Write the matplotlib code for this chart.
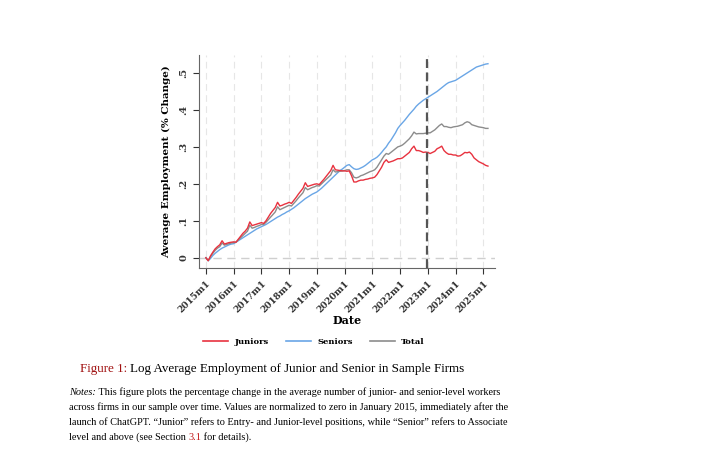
import matplotlib
matplotlib.use("Agg")
import matplotlib.pyplot as plt
from matplotlib.lines import Line2D
import numpy as np

# monthly values, 2015m1 .. 2025m3
juniors = [
    0, -0.008, 0.005, 0.015, 0.024, 0.03, 0.035, 0.046, 0.037, 0.039, 0.041, 0.042,
    0.043, 0.042, 0.05, 0.058, 0.066, 0.072, 0.08, 0.097, 0.087, 0.089, 0.091, 0.093,
    0.095, 0.093, 0.1, 0.11, 0.12, 0.128, 0.136, 0.15, 0.14, 0.142, 0.145, 0.147,
    0.15, 0.147, 0.155, 0.163, 0.172, 0.18, 0.188, 0.203, 0.193, 0.195, 0.197, 0.199,
    0.2, 0.198, 0.205, 0.212, 0.22, 0.228, 0.236, 0.25, 0.238, 0.237, 0.236, 0.235,
    0.235, 0.234, 0.235, 0.222, 0.205, 0.205, 0.208, 0.21, 0.21, 0.212, 0.213, 0.215,
    0.216, 0.218, 0.225, 0.235, 0.245, 0.258, 0.265, 0.258, 0.26, 0.262, 0.265, 0.268,
    0.268, 0.27, 0.275, 0.28, 0.285, 0.295, 0.302, 0.29, 0.29, 0.288, 0.285, 0.286,
    0.285, 0.282, 0.285, 0.288, 0.295, 0.298, 0.302, 0.29, 0.284, 0.28, 0.28, 0.278,
    0.278, 0.275, 0.276, 0.28, 0.285, 0.284, 0.286, 0.28, 0.27, 0.265, 0.26, 0.257,
    0.254, 0.25, 0.248,
]
seniors = [
    0, -0.008, -0.002, 0.006, 0.012, 0.017, 0.022, 0.026, 0.029, 0.032, 0.035, 0.037,
    0.038, 0.042, 0.046, 0.05, 0.054, 0.058, 0.062, 0.066, 0.07, 0.074, 0.078, 0.081,
    0.084, 0.087, 0.09, 0.094, 0.098, 0.102, 0.106, 0.11, 0.113, 0.117, 0.12, 0.124,
    0.127, 0.131, 0.135, 0.14, 0.145, 0.15, 0.155, 0.16, 0.164, 0.168, 0.172, 0.175,
    0.178, 0.183, 0.188, 0.194, 0.2, 0.206, 0.212, 0.218, 0.224, 0.23, 0.236, 0.24,
    0.245, 0.25, 0.252, 0.246, 0.241, 0.239, 0.24, 0.243, 0.246, 0.25, 0.255, 0.26,
    0.265, 0.268, 0.272, 0.278, 0.285, 0.293, 0.3, 0.31, 0.318, 0.328, 0.338, 0.35,
    0.358, 0.365, 0.372, 0.38, 0.388, 0.395, 0.402, 0.41, 0.416, 0.421, 0.426, 0.43,
    0.434, 0.438, 0.442, 0.446, 0.45, 0.455, 0.46, 0.465, 0.47, 0.474, 0.476, 0.478,
    0.48, 0.484, 0.488, 0.492, 0.496, 0.5, 0.504, 0.508, 0.512, 0.516, 0.518, 0.52,
    0.522, 0.524, 0.525,
]
total = [
    0, -0.008, 0.003, 0.012, 0.02, 0.026, 0.03, 0.04, 0.034, 0.036, 0.038, 0.04,
    0.041, 0.042, 0.048, 0.054, 0.06, 0.066, 0.072, 0.088, 0.08, 0.082, 0.085, 0.087,
    0.09, 0.09, 0.096, 0.103, 0.11, 0.117, 0.124, 0.138, 0.13, 0.133, 0.136, 0.139,
    0.142, 0.14, 0.147, 0.154, 0.162, 0.169, 0.176, 0.19, 0.184, 0.187, 0.19, 0.192,
    0.195, 0.194, 0.2, 0.206, 0.212, 0.218, 0.224, 0.238, 0.232, 0.233, 0.234, 0.235,
    0.236, 0.238, 0.238, 0.23, 0.218, 0.216, 0.218, 0.222, 0.224, 0.227, 0.23, 0.233,
    0.235, 0.238, 0.245, 0.255, 0.265, 0.275, 0.282, 0.28, 0.285, 0.29, 0.295, 0.3,
    0.302, 0.305, 0.31, 0.316, 0.322, 0.33, 0.34, 0.335, 0.336, 0.336, 0.336, 0.337,
    0.338, 0.338, 0.342, 0.346, 0.352, 0.358, 0.362, 0.355, 0.355, 0.353, 0.352, 0.354,
    0.355, 0.356, 0.358, 0.36, 0.365, 0.368, 0.366, 0.36, 0.358, 0.356, 0.354, 0.353,
    0.352, 0.35, 0.35,
]
years = list(range(2015, 2026))
xtick_labels = [f"{y}m1" for y in years]
yticks = [0, 0.1, 0.2, 0.3, 0.4, 0.5]
ytick_labels = ["0", ".1", ".2", ".3", ".4", ".5"]
chatgpt_month = 95.5  # months since 2015m1

RED = "#e8323f"
BLUE = "#6aa6e6"
GRAY = "#8c8c8c"
SERIF = "DejaVu Serif"
TEXTF = "Liberation Serif"

months = np.arange(len(juniors))

fig = plt.figure(figsize=(7.08, 4.72), dpi=100)
ax = fig.add_axes([0.281, 0.432, 0.418, 0.451])

for yr in range(len(years)):
    ax.axvline(yr * 12, color="#e6e6e6", lw=0.8, ls=(0, (6, 4)), zorder=0)
ax.axhline(0, color="#cfcfcf", lw=1.0, ls=(0, (6, 4)), zorder=0)

ax.plot(months, seniors, color=BLUE, lw=1.0)
ax.plot(months, total, color=GRAY, lw=1.0)
ax.plot(months, juniors, color=RED, lw=1.0)
ax.axvline(chatgpt_month, color="#555555", lw=1.6, ls=(0, (4, 2)))

ax.set_xlim(-3, 125)
ax.set_ylim(-0.028, 0.548)
ax.set_xticks([i * 12 for i in range(len(years))])
ax.set_xticklabels(xtick_labels, rotation=45, ha="right", rotation_mode="anchor",
                   fontfamily=SERIF, fontweight="bold", fontsize=6.6)
ax.set_yticks(yticks)
ax.set_yticklabels(ytick_labels, rotation=90, va="center",
                   fontfamily=SERIF, fontweight="bold", fontsize=7)
ax.tick_params(colors="#333333", length=4, width=0.8)
for s in ["top", "right"]:
    ax.spines[s].set_visible(False)
for s in ["left", "bottom"]:
    ax.spines[s].set_color("#666666")
    ax.spines[s].set_linewidth(0.8)

ax.set_ylabel("Average Employment (% Change)", fontfamily=SERIF, fontweight="bold",
              fontsize=7.5, labelpad=6)
ax.set_xlabel("Date", fontfamily=SERIF, fontweight="bold", fontsize=8)
ax.xaxis.set_label_coords(0.5, -0.222)

handles = [Line2D([], [], color=RED, lw=1.2), Line2D([], [], color=BLUE, lw=1.2),
           Line2D([], [], color=GRAY, lw=1.2)]
fig.legend(handles, ["Juniors", "Seniors", "Total"], loc="center", ncol=3,
           bbox_to_anchor=(314 / 708, 1 - 342 / 472), frameon=False,
           prop={"family": SERIF, "weight": "bold", "size": 6},
           handlelength=3.0, columnspacing=2.0, handletextpad=0.8)


def text_run(x, y, pieces, size):
    # draw pieces of text one after another on one baseline (figure pixels)
    r = fig.canvas.get_renderer()
    cur = x
    for s, kw in pieces:
        t = fig.text(cur / 708, 1 - y / 472, s, fontsize=size, va="baseline",
                     ha="left", **kw)
        bb = t.get_window_extent(renderer=r)
        cur += bb.width


fig.canvas.draw()
text_run(80, 372, [("Figure 1: ", dict(color="#a01010", family=TEXTF)),
                   ("Log Average Employment of Junior and Senior in Sample Firms",
                    dict(color="black", family=TEXTF))], 9.4)

notes = [
    [("Notes:", dict(family=TEXTF, style="italic")),
     (" This figure plots the percentage change in the average number of junior- and senior-level workers",
      dict(family=TEXTF))],
    [("across firms in our sample over time. Values are normalized to zero in January 2015, immediately after the",
      dict(family=TEXTF))],
    [("launch of ChatGPT. \u201cJunior\u201d refers to Entry- and Junior-level positions, while \u201cSenior\u201d refers to Associate",
      dict(family=TEXTF))],
    [("level and above (see Section ", dict(family=TEXTF)),
     ("3.1", dict(family=TEXTF, color="#c01818")),
     (" for details).", dict(family=TEXTF))],
]
for i, line in enumerate(notes):
    text_run(69, 395 + i * 15, line, 7.4)

fig.savefig("out.png", dpi=100)
